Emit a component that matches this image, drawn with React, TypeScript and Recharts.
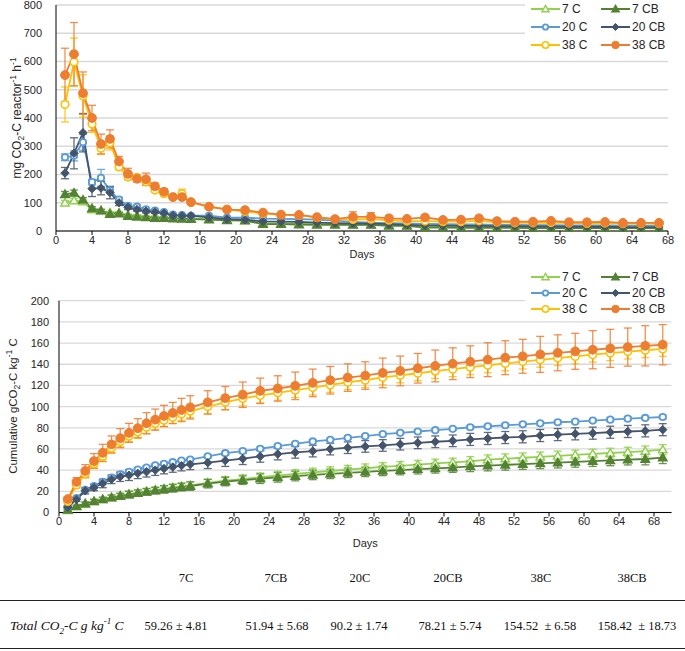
import { LineChart, Line, XAxis, YAxis, CartesianGrid, ErrorBar, Legend } from "recharts"

// hourly rate chart: sampling days
const RATE_DAYS = [1, 2, 3, 4, 5, 6, 7, 8, 9, 10, 11, 12, 13, 14, 15, 17, 19, 21, 23, 25, 27, 29, 31, 33, 35, 37, 39, 41, 43, 45, 47, 49, 51, 53, 55, 57, 59, 61, 63, 65, 67]

const RATE_7C = [100, 108, 104, 76, 72, 65, 64, 57, 55, 52, 50, 48, 46, 45, 44, 42, 40, 38, 28, 27, 26, 25, 24, 23, 23, 21, 20, 17, 16, 15, 15, 14, 14, 13, 13, 13, 12, 12, 12, 12, 12]
const RATE_7CB = [130, 135, 110, 80, 72, 60, 62, 53, 50, 48, 46, 46, 44, 43, 42, 40, 38, 37, 24, 24, 23, 22, 22, 22, 22, 18, 18, 12, 12, 11, 12, 11, 11, 10, 10, 10, 10, 10, 10, 10, 10]
const RATE_20C = [261, 266, 314, 173, 188, 144, 111, 89, 86, 77, 72, 67, 58, 56, 54, 54, 47, 47, 44, 43, 42, 40, 37, 32, 30, 28, 27, 25, 24, 23, 23, 22, 22, 21, 21, 20, 20, 20, 19, 19, 19]
const RATE_20CB = [205, 275, 348, 150, 152, 136, 100, 84, 76, 70, 67, 63, 55, 54, 54, 48, 42, 40, 34, 33, 32, 30, 28, 27, 26, 24, 22, 20, 19, 18, 18, 17, 17, 16, 16, 15, 15, 15, 14, 14, 14]
const RATE_38C = [448, 598, 478, 379, 293, 312, 227, 191, 190, 174, 145, 132, 120, 132, 102, 86, 77, 69, 62, 57, 55, 47, 41, 41, 42, 38, 35, 35, 33, 33, 36, 31, 29, 29, 30, 28, 27, 28, 26, 26, 26]
const RATE_38CB = [552, 626, 488, 400, 308, 326, 246, 202, 185, 183, 158, 139, 120, 120, 102, 86, 76, 74, 65, 58, 57, 49, 42, 50, 50, 45, 43, 48, 39, 40, 45, 35, 33, 33, 36, 31, 31, 32, 29, 29, 29]

const RATE_7C_ERR = [8, 8, 6, 5, 4, 4, 4, 3, 3, 3, 3, 3, 3, 3, 3, 3, 3, 3, 3, 3, 3, 3, 3, 3, 3, 3, 3, 3, 2, 2, 2, 2, 2, 2, 2, 2, 2, 2, 2, 2, 2]
const RATE_7CB_ERR = [10, 10, 8, 6, 5, 4, 4, 4, 3, 3, 3, 3, 3, 3, 3, 3, 3, 3, 3, 3, 3, 3, 3, 3, 3, 3, 3, 3, 2, 2, 2, 2, 2, 2, 2, 2, 2, 2, 2, 2, 2]
const RATE_20C_ERR = [12, 18, 28, 10, 30, 10, 8, 6, 5, 5, 5, 4, 4, 4, 4, 4, 3, 3, 3, 3, 3, 3, 3, 3, 3, 3, 3, 3, 2, 2, 2, 2, 2, 2, 2, 2, 2, 2, 2, 2, 2]
const RATE_20CB_ERR = [20, 55, 68, 28, 24, 22, 10, 8, 6, 6, 5, 5, 4, 4, 4, 4, 3, 3, 3, 3, 3, 3, 3, 3, 3, 3, 3, 3, 2, 2, 2, 2, 2, 2, 2, 2, 2, 2, 2, 2, 2]
const RATE_38C_ERR = [62, 85, 75, 30, 22, 25, 10, 10, 8, 10, 8, 8, 6, 16, 5, 5, 4, 4, 4, 4, 4, 4, 3, 4, 4, 3, 3, 3, 3, 3, 3, 3, 3, 3, 3, 3, 3, 3, 3, 3, 3]
const RATE_38CB_ERR = [95, 112, 75, 45, 35, 32, 18, 20, 12, 22, 12, 10, 8, 8, 6, 6, 5, 5, 5, 4, 4, 4, 4, 18, 15, 10, 8, 8, 5, 5, 5, 4, 4, 4, 4, 4, 4, 4, 3, 3, 3]

// cumulative chart
const CUM_DAYS = [1, 2, 3, 4, 5, 6, 7, 8, 9, 10, 11, 12, 13, 14, 15, 17, 19, 21, 23, 25, 27, 29, 31, 33, 35, 37, 39, 41, 43, 45, 47, 49, 51, 53, 55, 57, 59, 61, 63, 65, 67, 69]

const CUM_7C = [2, 5.5, 8, 10.5, 12.5, 14, 15.7, 17.2, 18.6, 19.9, 21.1, 22.4, 23.5, 24.6, 25.6, 28, 30, 31.6, 33.3, 34.9, 36.4, 37.8, 39.2, 40.5, 41.8, 43, 44.1, 45.2, 46.3, 47.3, 48.3, 49.9, 50.8, 51.7, 52.6, 53.5, 54.4, 55.3, 56.2, 57.1, 58, 59.3]
const CUM_7CB = [2.5, 6, 8.5, 10.5, 12.3, 14, 15.5, 17, 18.3, 19.5, 20.7, 21.8, 22.9, 23.9, 24.9, 27.2, 29.2, 30.5, 31.9, 33.2, 34.4, 35.5, 36.5, 37.5, 38.4, 39.3, 40.1, 40.9, 41.7, 42.4, 43.6, 44.3, 45, 45.7, 46.4, 47.1, 47.8, 48.5, 49.2, 49.9, 50.5, 51.9]
const CUM_20C = [5.5, 13.5, 21.5, 25, 29, 33, 36, 38.5, 40.5, 42.5, 44.5, 46, 47.5, 49, 50, 53, 56, 58, 60.2, 62.7, 64.9, 67.1, 68.6, 70.5, 72.1, 74, 75.2, 76.5, 77.7, 79, 80.5, 81.4, 82.4, 83.3, 84.2, 85.2, 85.8, 86.8, 87.7, 88.6, 89.3, 90.2]
const CUM_20CB = [5, 12.4, 20.5, 23.6, 27.4, 31.3, 33.8, 35.2, 37, 38.5, 40, 41.5, 43, 44.3, 45.5, 47, 49, 50.8, 53, 55.2, 56.8, 58, 59.9, 61.2, 62.4, 63.3, 64.5, 65.8, 66.8, 67.7, 69, 69.9, 70.8, 71.5, 72.7, 73.6, 74.3, 74.9, 75.8, 76.5, 77.1, 78.2]
const CUM_38C = [10.5, 26, 36.5, 46, 53, 61, 67, 72, 76, 80.5, 84, 87, 90, 93, 95.5, 100, 104, 107.7, 110.5, 113, 115.5, 118, 120.5, 123, 125, 127.5, 129.5, 131.5, 133.5, 135.3, 137.2, 139, 140.8, 142.5, 144.2, 145.8, 147.4, 149, 150.5, 152, 153.2, 154.5]
const CUM_38CB = [12.7, 28.9, 39.2, 48.6, 56.4, 64.3, 70.2, 75.2, 79.6, 84.3, 87.7, 91.2, 94, 96.8, 99.3, 104, 108, 111.2, 114.9, 117.1, 119.6, 122.4, 124.9, 127.4, 129.3, 131.8, 133.7, 136.2, 138.4, 140.5, 142.4, 144.3, 146.2, 147.5, 149.3, 150.8, 152.2, 153.7, 155, 156.2, 157.4, 158.4]

const CUM_7C_ERR = [0.5, 1, 1.5, 2, 2, 2.5, 2.5, 3, 3, 3, 3, 3, 3.5, 3.5, 3.5, 3.5, 4, 4, 4, 4, 4, 4, 4, 4, 4, 4, 4, 4, 4, 4, 4.5, 4.5, 4.5, 4.5, 4.5, 4.5, 4.5, 4.5, 4.5, 4.5, 4.8, 4.8]
const CUM_7CB_ERR = [0.5, 1, 1.5, 2, 2, 2.5, 2.5, 3, 3, 3, 3, 3.5, 3.5, 3.5, 4, 4, 4, 4, 4.5, 4.5, 4.5, 4.5, 4.5, 4.5, 4.5, 4.5, 4.5, 4.5, 4.5, 4.5, 5, 5, 5, 5, 5, 5, 5, 5, 5, 5, 5.5, 5.7]
const CUM_20C_ERR = [1, 1, 1.5, 1.5, 1.5, 1.5, 1.5, 1.5, 1.5, 1.5, 1.5, 1.5, 1.5, 1.5, 1.5, 1.5, 1.5, 1.5, 1.5, 1.5, 1.5, 1.5, 1.5, 1.5, 1.5, 1.5, 1.5, 1.5, 1.5, 1.5, 1.7, 1.7, 1.7, 1.7, 1.7, 1.7, 1.7, 1.7, 1.7, 1.7, 1.7, 1.7]
const CUM_20CB_ERR = [1.5, 2, 3, 3, 4, 4, 4.5, 5, 5, 5, 5, 5, 5, 5, 5, 5.5, 5.5, 5.5, 5.5, 5.5, 5.5, 5.5, 5.5, 5.5, 5.5, 5.5, 5.5, 5.5, 5.5, 5.5, 5.7, 5.7, 5.7, 5.7, 5.7, 5.7, 5.7, 5.7, 5.7, 5.7, 5.7, 5.7]
const CUM_38C_ERR = [1.5, 3, 4, 4, 5, 5, 5, 5, 6, 6, 6, 6, 6, 6, 6, 7, 7, 7, 7, 7, 7, 7, 7, 7, 7, 7, 7, 7, 7, 7, 7, 7, 7, 7, 7, 7, 7, 7, 7, 7, 7, 7]
const CUM_38CB_ERR = [2, 4, 6, 7, 8, 8, 9, 9, 9, 10, 10, 10, 10, 11, 11, 11, 11, 12, 12, 12, 13, 13, 13, 13, 13, 14, 14, 14, 15, 15, 15, 16, 16, 16, 17, 17, 17, 18, 18, 18, 19, 19]

const RATE_X_TICKS = [0, 4, 8, 12, 16, 20, 24, 28, 32, 36, 40, 44, 48, 52, 56, 60, 64, 68]
const RATE_Y_TICKS = [0, 100, 200, 300, 400, 500, 600, 700, 800]
const CUM_X_TICKS = [0, 4, 8, 12, 16, 20, 24, 28, 32, 36, 40, 44, 48, 52, 56, 60, 64, 68]
const CUM_Y_TICKS = [0, 20, 40, 60, 80, 100, 120, 140, 160, 180, 200]

// table under the charts
const TREATMENTS = ["7C", "7CB", "20C", "20CB", "38C", "38CB"]
const TOTALS = ["59.26 ± 4.81", "51.94 ± 5.68", "90.2 ± 1.74", "78.21 ± 5.74", "154.52  ± 6.58", "158.42  ± 18.73"]

// horizontal centres of the table cells
const HEAD_X = [186, 276, 360, 448, 541, 632]
const VALUE_X = [176, 277, 359, 450, 540, 637]

const SERIES = [
    { key: "c7", label: "7 C", color: "#92D050", marker: "openTriangle" },
    { key: "c7b", label: "7 CB", color: "#548235", marker: "triangle" },
    { key: "c20", label: "20 C", color: "#5B9BD5", marker: "openCircleSmall" },
    { key: "c20b", label: "20 CB", color: "#44546A", marker: "diamond" },
    { key: "c38", label: "38 C", color: "#FFC000", marker: "openCircle" },
    { key: "c38b", label: "38 CB", color: "#ED7D31", marker: "circle" }
]

const rateData = RATE_DAYS.map((day, i) => ({
    day,
    c7: RATE_7C[i], c7e: RATE_7C_ERR[i],
    c7b: RATE_7CB[i], c7be: RATE_7CB_ERR[i],
    c20: RATE_20C[i], c20e: RATE_20C_ERR[i],
    c20b: RATE_20CB[i], c20be: RATE_20CB_ERR[i],
    c38: RATE_38C[i], c38e: RATE_38C_ERR[i],
    c38b: RATE_38CB[i], c38be: RATE_38CB_ERR[i]
}))

const cumData = CUM_DAYS.map((day, i) => ({
    day,
    c7: CUM_7C[i], c7e: CUM_7C_ERR[i],
    c7b: CUM_7CB[i], c7be: CUM_7CB_ERR[i],
    c20: CUM_20C[i], c20e: CUM_20C_ERR[i],
    c20b: CUM_20CB[i], c20be: CUM_20CB_ERR[i],
    c38: CUM_38C[i], c38e: CUM_38C_ERR[i],
    c38b: CUM_38CB[i], c38be: CUM_38CB_ERR[i]
}))

const FONT = "'Liberation Sans', Arial, sans-serif"
const SERIF = "'Liberation Serif', 'Times New Roman', serif"
const TEXT = "#262626"

function Marker({ kind, cx, cy, color, scale = 1 }: any) {
    if (cx == null || cy == null) return null
    const s = 4.2 * scale
    switch (kind) {
        case "openTriangle":
        case "triangle": {
            const d = `M${cx},${cy - s} L${cx + s},${cy + s * 0.75} L${cx - s},${cy + s * 0.75} Z`
            return <path d={d} fill={kind === "triangle" ? color : "#fff"} stroke={color} strokeWidth={1.5} />
        }
        case "diamond": {
            const d = `M${cx},${cy - s} L${cx + s},${cy} L${cx},${cy + s} L${cx - s},${cy} Z`
            return <path d={d} fill={color} stroke={color} strokeWidth={1} />
        }
        case "openCircleSmall":
            return <circle cx={cx} cy={cy} r={3.2 * scale} fill="#fff" stroke={color} strokeWidth={1.8} />
        case "openCircle":
            return <circle cx={cx} cy={cy} r={3.8 * scale} fill="#fff" stroke={color} strokeWidth={1.6} />
        default:
            return <circle cx={cx} cy={cy} r={4.4 * scale} fill={color} stroke={color} strokeWidth={1} />
    }
}

function LegendBox({ rowHeight }: { rowHeight: number }) {
    return (
        <div style={{
            display: "grid",
            gridTemplateColumns: "70px 76px",
            gridAutoRows: rowHeight,
            background: "#fff",
            fontFamily: FONT,
            fontSize: 12,
            color: TEXT,
            paddingLeft: 6
        }}>
            {SERIES.map(s => (
                <div key={s.key} style={{ display: "flex", alignItems: "center" }}>
                    <svg width={29} height={12} style={{ marginRight: 2 }}>
                        <line x1={0} y1={6} x2={29} y2={6} stroke={s.color} strokeWidth={2} />
                        <Marker kind={s.marker} cx={14.5} cy={6} color={s.color} scale={0.85} />
                    </svg>
                    <span>{s.label}</span>
                </div>
            ))}
        </div>
    )
}

function renderSeries() {
    return SERIES.map(s => (
        <Line
            key={s.key}
            dataKey={s.key}
            type="linear"
            stroke={s.color}
            strokeWidth={1.8}
            isAnimationActive={false}
            dot={(p: any) => <Marker key={`${s.key}-${p.index}`} kind={s.marker} cx={p.cx} cy={p.cy} color={s.color} />}
            activeDot={false}
        >
            <ErrorBar dataKey={`${s.key}e`} width={4} strokeWidth={1.3} stroke={s.color} strokeOpacity={0.85} direction="y" />
        </Line>
    ))
}

const tickStyle = { fontSize: 11, fill: TEXT, fontFamily: FONT }

export default function App() {
    return (
        <div style={{ position: "absolute", left: 0, top: 0, width: 685, height: 651, background: "#fff", fontFamily: FONT }}>
            {/* hourly CO2 rate */}
            <div style={{ position: "absolute", left: 0, top: 0 }}>
                <LineChart width={685} height={260} data={rateData} margin={{ top: 5, right: 17, bottom: 0, left: 0 }}>
                    <CartesianGrid vertical={false} stroke="#D9D9D9" strokeWidth={1.3} />
                    <XAxis
                        dataKey="day"
                        type="number"
                        domain={[0, 68]}
                        ticks={RATE_X_TICKS}
                        interval={0}
                        height={29}
                        tickSize={4}
                        tickMargin={1}
                        stroke="#000"
                        tick={tickStyle}
                        label={{ value: "Days", position: "insideBottom", offset: 2, fontSize: 11, fill: TEXT, fontFamily: FONT }}
                    />
                    <YAxis
                        type="number"
                        domain={[0, 800]}
                        ticks={RATE_Y_TICKS}
                        interval={0}
                        width={56}
                        tickSize={0}
                        tickMargin={14}
                        stroke="#000"
                        tick={tickStyle}
                    />
                    <Legend
                        layout="horizontal"
                        verticalAlign="middle"
                        align="center"
                        wrapperStyle={{ top: 0, left: 525, width: 160, height: 50 }}
                        content={() => <LegendBox rowHeight={18} />}
                    />
                    {renderSeries()}
                </LineChart>
            </div>
            <div style={{ position: "absolute", left: 17, top: 118, transform: "translate(-50%, -50%) rotate(-90deg)", whiteSpace: "nowrap", fontSize: 12, color: TEXT }}>
                mg CO<sub style={{ fontSize: 8.5 }}>2</sub>-C reactor<sup style={{ fontSize: 8.5 }}>-1</sup> h<sup style={{ fontSize: 8.5 }}>-1</sup>
            </div>

            {/* cumulative CO2 */}
            <div style={{ position: "absolute", left: 0, top: 262 }}>
                <LineChart width={685} height={290} data={cumData} margin={{ top: 38.7, right: 13.5, bottom: 0, left: 0 }}>
                    <CartesianGrid vertical={false} stroke="#D9D9D9" strokeWidth={1.3} />
                    <XAxis
                        dataKey="day"
                        type="number"
                        domain={[0, 70]}
                        ticks={CUM_X_TICKS}
                        interval={0}
                        height={39.5}
                        tickSize={4}
                        tickMargin={1}
                        stroke="#000"
                        tick={tickStyle}
                        label={{ value: "Days", position: "insideBottom", offset: 5, fontSize: 11, fill: TEXT, fontFamily: FONT }}
                    />
                    <YAxis
                        type="number"
                        domain={[0, 200]}
                        ticks={CUM_Y_TICKS}
                        interval={0}
                        width={59}
                        tickSize={0}
                        tickMargin={10}
                        stroke="#000"
                        tick={tickStyle}
                    />
                    <Legend
                        layout="horizontal"
                        verticalAlign="middle"
                        align="center"
                        wrapperStyle={{ top: 7, left: 525, width: 160, height: 48 }}
                        content={() => <LegendBox rowHeight={16} />}
                    />
                    {renderSeries()}
                </LineChart>
            </div>
            <div style={{ position: "absolute", left: 13, top: 406, transform: "translate(-50%, -50%) rotate(-90deg)", whiteSpace: "nowrap", fontSize: 11.5, color: TEXT }}>
                Cumulative gCO<sub style={{ fontSize: 8.5 }}>2</sub>-C kg<sup style={{ fontSize: 8.5 }}>-1</sup> C
            </div>

            {/* totals table */}
            <div style={{ position: "absolute", left: 0, top: 560, width: 685, height: 91, fontFamily: SERIF, fontSize: 12.5, color: "#111" }}>
                {TREATMENTS.map((t, i) => (
                    <span key={t} style={{ position: "absolute", left: HEAD_X[i], top: 18, transform: "translate(-50%, -50%)", whiteSpace: "pre" }}>{t}</span>
                ))}
                <div style={{ position: "absolute", left: 0, top: 40, width: 685, borderTop: "1.5px solid #222" }} />
                <span style={{ position: "absolute", left: 10, top: 66, transform: "translateY(-50%)", fontStyle: "italic", fontSize: 13.5, whiteSpace: "nowrap" }}>
                    Total CO<sub style={{ fontSize: 9 }}>2</sub>-C g kg<sup style={{ fontSize: 9 }}>-1</sup> C
                </span>
                {TOTALS.map((t, i) => (
                    <span key={i} style={{ position: "absolute", left: VALUE_X[i], top: 66, transform: "translate(-50%, -50%)", whiteSpace: "pre" }}>{t}</span>
                ))}
                <div style={{ position: "absolute", left: 0, top: 88, width: 685, borderTop: "1.5px solid #222" }} />
            </div>
        </div>
    )
}
